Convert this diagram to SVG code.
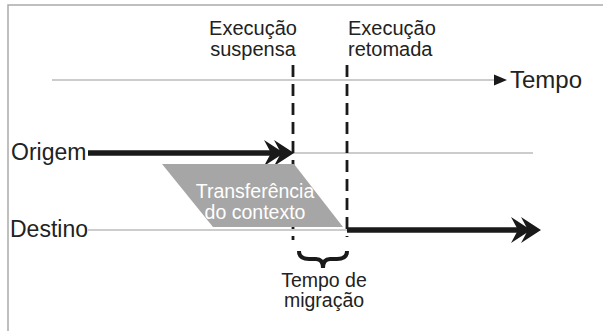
<svg xmlns="http://www.w3.org/2000/svg" width="603" height="331" viewBox="0 0 603 331">
<style>
.t{font-family:"Liberation Sans",Arial,sans-serif;fill:#222}
.w{font-family:"Liberation Sans",Arial,sans-serif;fill:#fff}
.thin{stroke:#9a9a9a;stroke-width:1.2;fill:none}
.dash{stroke:#1a1a1a;stroke-width:2.8;stroke-dasharray:12 7;fill:none}
.thick{stroke:#1a1a1a;stroke-width:5.5;fill:none}
</style>
<defs>
<g id="dblhead">
<path d="M-10,0 L-30,-13 L-23,0 L-30,13 Z" fill="#1a1a1a"/>
<path d="M0,0 L-20,-13 L-13,0 L-20,13 Z" fill="#1a1a1a"/>
</g>
</defs>
<rect x="0" y="0" width="603" height="331" fill="#fff"/>
<path d="M8,331 V5 H603" stroke="#aaa" stroke-width="1.5" fill="none"/>

<g id="connectors">
<line class="thin" x1="52" y1="80" x2="496" y2="80"/>
<path d="M494,74.5 L507,80 L494,85.5 Z" fill="#1a1a1a"/>
<line class="thin" x1="292" y1="153" x2="533" y2="153"/>
<line class="thin" x1="88" y1="230" x2="347" y2="230"/>
<line class="thick" x1="88" y1="153" x2="282" y2="153"/>
<use href="#dblhead" transform="translate(294,153)"/>
<line class="thick" x1="347" y1="230" x2="528" y2="230"/>
<use href="#dblhead" transform="translate(541,230)"/>
<line class="dash" x1="293" y1="65" x2="293" y2="240"/>
<line class="dash" x1="347" y1="65" x2="347" y2="237"/>
<path d="M299,251 Q299,259 309,259 L316,259 Q323,259 323,268 Q323,259 330,259 L337,259 Q347,259 347,251" stroke="#1a1a1a" stroke-width="4" fill="none"/>
</g>

<g id="suspensa">
<text class="t" x="253" y="35" font-size="20" text-anchor="middle">Execução</text>
<text class="t" x="253" y="56" font-size="20" text-anchor="middle">suspensa</text>
</g>
<g id="retomada">
<text class="t" x="348" y="35" font-size="20">Execução</text>
<text class="t" x="348" y="56" font-size="20">retomada</text>
</g>
<g id="tempo"><text class="t" x="510" y="88" font-size="24">Tempo</text></g>
<g id="origem"><text class="t" x="11" y="160" font-size="23">Origem</text></g>
<g id="destino"><text class="t" x="10" y="237" font-size="23">Destino</text></g>
<g id="transferencia">
<path d="M162,164 L294,164 L343,227 L213,227 Z" fill="#a6a6a6"/>
<text class="w" x="255" y="198" font-size="19.5" text-anchor="middle">Transferência</text>
<text class="w" x="255" y="219" font-size="19.5" text-anchor="middle">do contexto</text>
</g>
<g id="migracao">
<text class="t" x="324" y="287" font-size="19.5" text-anchor="middle">Tempo de</text>
<text class="t" x="324" y="307" font-size="19.5" text-anchor="middle">migração</text>
</g>
</svg>
